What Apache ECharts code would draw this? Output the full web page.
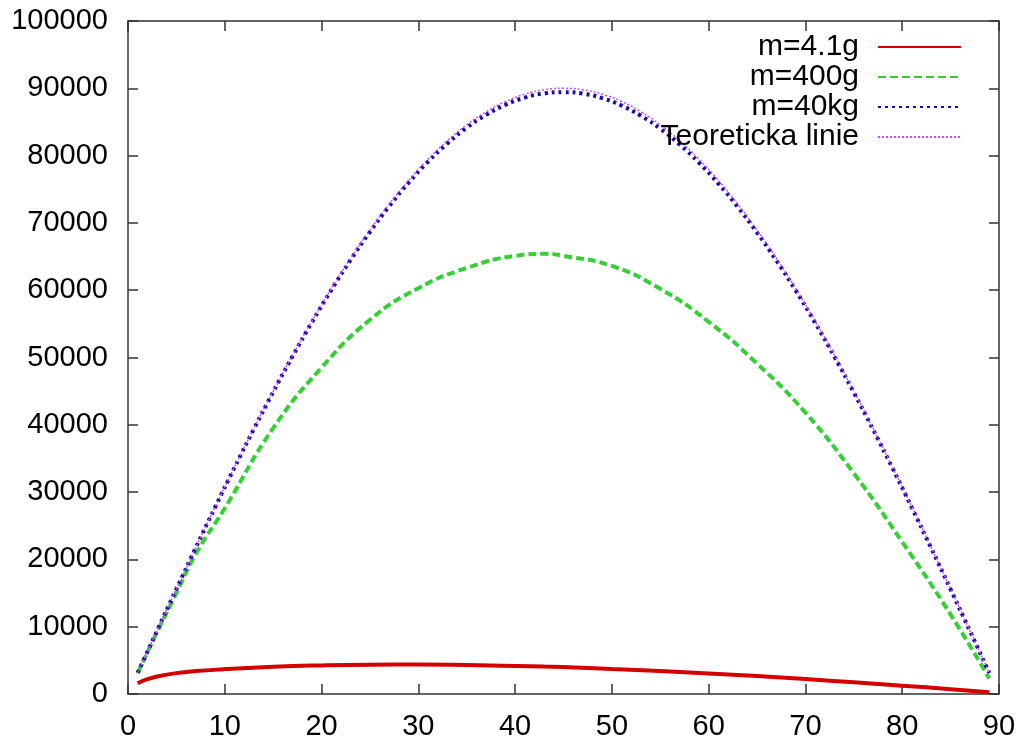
<!DOCTYPE html>
<html>
<head>
<meta charset="utf-8">
<script src="https://cdn.jsdelivr.net/npm/echarts@6/dist/echarts.min.js"></script>
<style>
html,body{margin:0;padding:0;background:#fff;}
#main{width:1025px;height:742px;}
</style>
</head>
<body>
<div id="main"></div>
<script>
// uhly (stupne) a dostrely
var anglesFine = [1,3,5,7,9,11,13,15,17,19,21,23,25,27,29,31,33,35,37,39,41,43,45,
	47,49,51,53,55,57,59,61,63,65,67,69,71,73,75,77,79,81,83,85,87,89];
var theory = [3141,9408,15628,21773,27812,33715,39453,45000,50327,55409,60222,64741,68944,72812,76324,79466,82219,84572,86513,88034,89124,89780,90000,
	89780,89124,88034,86513,84572,82219,79466,76324,72812,68944,64741,60222,55409,50327,45000,39453,33715,27812,21773,15628,9408,3141];
var heavy = [3140,9400,15600,21740,27760,33640,39360,44880,50180,55230,60010,64500,68670,72500,75980,79090,81810,84140,86050,87550,88610,89240,89430,
	89210,88540,87440,85920,83990,81660,78940,75840,72380,68560,64410,59940,55160,50100,44800,39270,33550,27670,21650,15540,9350,3120];

var anglesCoarse = [1,2,3,5,7,10,15,20,25,30,35,40,43,45,50,55,60,65,70,75,80,85,89];
var medium = [3100,6200,9200,15000,20800,27600,39500,48500,55600,60300,63300,65100,65400,65100,63600,60200,55300,49100,41800,32800,22600,11800,2300];
var light = [1600,2200,2600,3100,3400,3700,4050,4250,4350,4370,4300,4170,4080,4020,3720,3400,3060,2660,2220,1740,1240,720,250];

var xTicks = [0,10,20,30,40,50,60,70,80,90];
var names = ['m=4.1g','m=400g','m=40kg','Teoreticka linie'];

function pairs(xs, ys){
	var out = [];
	for(var i=0;i<xs.length;i++){
		out.push([xs[i], ys[i]]);
	}
	return out;
}

var myChart = echarts.init(document.getElementById('main'));

var axisLine = {onZero:false, lineStyle:{color:'#333', width:1.5}};
var tick = {inside:true, length:10, lineStyle:{color:'#333', width:1.5}};
var font = 'Liberation Sans, Arial, Helvetica, sans-serif';

option = {
	animation:false,
	backgroundColor:'#fff',
	grid:{left:128, right:26, top:21, bottom:48},
	legend:{
		orient:'vertical',
		right:63,
		top:32,
		padding:0,
		align:'right',
		itemWidth:83,
		itemHeight:14,
		itemGap:0,
		itemStyle:{opacity:0},
		textStyle:{fontSize:30, lineHeight:30, color:'#000', fontFamily:font, padding:[0,14,0,0]},
		data:names
	},
	xAxis:[{
		type:'value', min:0, max:90, interval:10,
		axisLine:axisLine, axisTick:tick, splitLine:{show:false},
		axisLabel:{fontSize:29, color:'#000', margin:18, fontFamily:font,
			formatter:function(v){ return xTicks.indexOf(v) >= 0 ? String(v) : ''; }}
	},{
		type:'value', position:'top', min:0, max:90, interval:10,
		axisLine:axisLine, axisTick:tick, splitLine:{show:false},
		axisLabel:{show:false}
	}],
	yAxis:[{
		type:'value', min:0, max:100000, interval:10000,
		axisLine:axisLine, axisTick:tick, splitLine:{show:false},
		axisLabel:{fontSize:29, color:'#000', margin:20, fontFamily:font,
			formatter:function(v){ return String(v); }}
	},{
		type:'value', position:'right', min:0, max:100000, interval:10000,
		axisLine:axisLine, axisTick:tick, splitLine:{show:false},
		axisLabel:{show:false}
	}],
	series:[{
		name:names[0], type:'line', smooth:true, symbol:'none',
		data:pairs(anglesCoarse, light),
		lineStyle:{color:'#d40000', width:4},
		itemStyle:{color:'#d40000'}
	},{
		name:names[1], type:'line', smooth:true, symbol:'none',
		data:pairs(anglesCoarse, medium),
		lineStyle:{color:'#35d035', width:4, type:[8,4]},
		itemStyle:{color:'#35d035'}
	},{
		name:names[2], type:'line', smooth:true, symbol:'none',
		data:pairs(anglesFine, heavy),
		lineStyle:{color:'#1c0aa8', width:4, type:[3,4]},
		itemStyle:{color:'#1c0aa8'}
	},{
		name:names[3], type:'line', smooth:true, symbol:'none',
		data:pairs(anglesFine, theory),
		lineStyle:{color:'#c84cff', width:1.5, type:[2,2]},
		itemStyle:{color:'#c84cff'}
	}]
};

myChart.setOption(option);
</script>
</body>
</html>
